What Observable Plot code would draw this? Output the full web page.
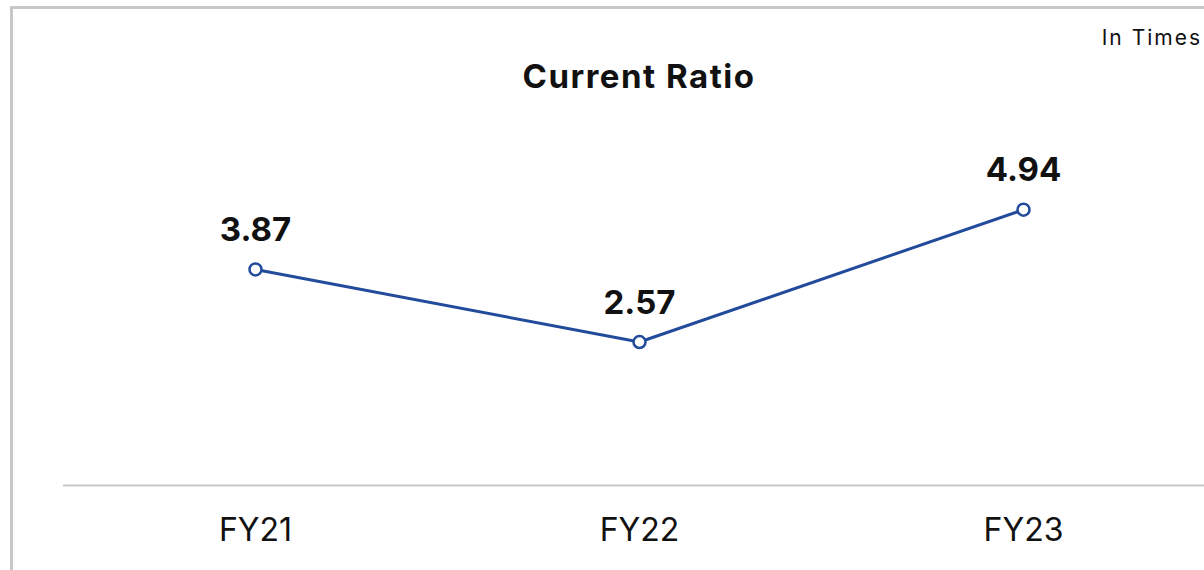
<!DOCTYPE html>
<html>
<head>
<meta charset="utf-8">
<script src="https://cdn.jsdelivr.net/npm/d3@7"></script>
<script src="https://cdn.jsdelivr.net/npm/@observablehq/plot@0.6"></script>
<style>
  html, body { margin: 0; padding: 0; background: #fff; width: 1204px; height: 570px; overflow: hidden; font-family: Inter, "Noto Sans", sans-serif; }
  #frame { position: absolute; left: 10px; top: 6px; width: 1300px; height: 700px; border-top: 3px solid #c8c8c8; border-left: 3px solid #c8c8c8; }
  #title { position: absolute; left: 0; width: 1278px; top: 56px; text-align: center; font-weight: 700; font-size: 33px; color: #111; letter-spacing: 1.5px; }
  #unit { position: absolute; right: 2px; top: 25px; font-size: 21px; color: #111; letter-spacing: 2px; }
  #chart { position: absolute; left: 0; top: 0; }
  #chart svg { overflow: visible; }
</style>
</head>
<body>
<div id="frame"></div>
<div id="chart"></div>
<div id="title">Current Ratio</div>
<div id="unit">In Times</div>
<script>
const categories = ["FY21", "FY22", "FY23"];
const values = [3.87, 2.57, 4.94];
const labels = ["3.87", "2.57", "4.94"];

const data = categories.map((c, i) => ({ cat: c, value: values[i], label: labels[i] }));

const chart = Plot.plot({
  width: 1204,
  height: 570,
  marginLeft: 63,
  marginRight: 0,
  marginTop: 150,
  marginBottom: 85,
  style: { fontFamily: "Inter, 'Noto Sans', sans-serif", background: "transparent", overflow: "visible" },
  x: { type: "band", domain: categories, range: [63, 1215], padding: 0, label: null, tickSize: 0, tickPadding: 0 },
  y: { domain: [0, 6], axis: null },
  marks: [
    Plot.ruleY([0], { stroke: "#c8c8c8", strokeWidth: 2 }),
    Plot.axisX({ tickSize: 0, tickPadding: 0, dy: 45, fontSize: 32, fill: "#111", label: null, textAnchor: "middle", lineAnchor: "middle" }),
    Plot.line(data, { x: "cat", y: "value", stroke: "#234b9b", strokeWidth: 3 }),
    Plot.dot(data, { x: "cat", y: "value", r: 6, fill: "#fff", stroke: "#234b9b", strokeWidth: 2.5 }),
    Plot.text(data, { x: "cat", y: "value", text: "label", dy: -39, fontSize: 33, fontWeight: 700, fill: "#111", lineAnchor: "middle" })
  ]
});
document.getElementById("chart").appendChild(chart);
</script>
</body>
</html>
